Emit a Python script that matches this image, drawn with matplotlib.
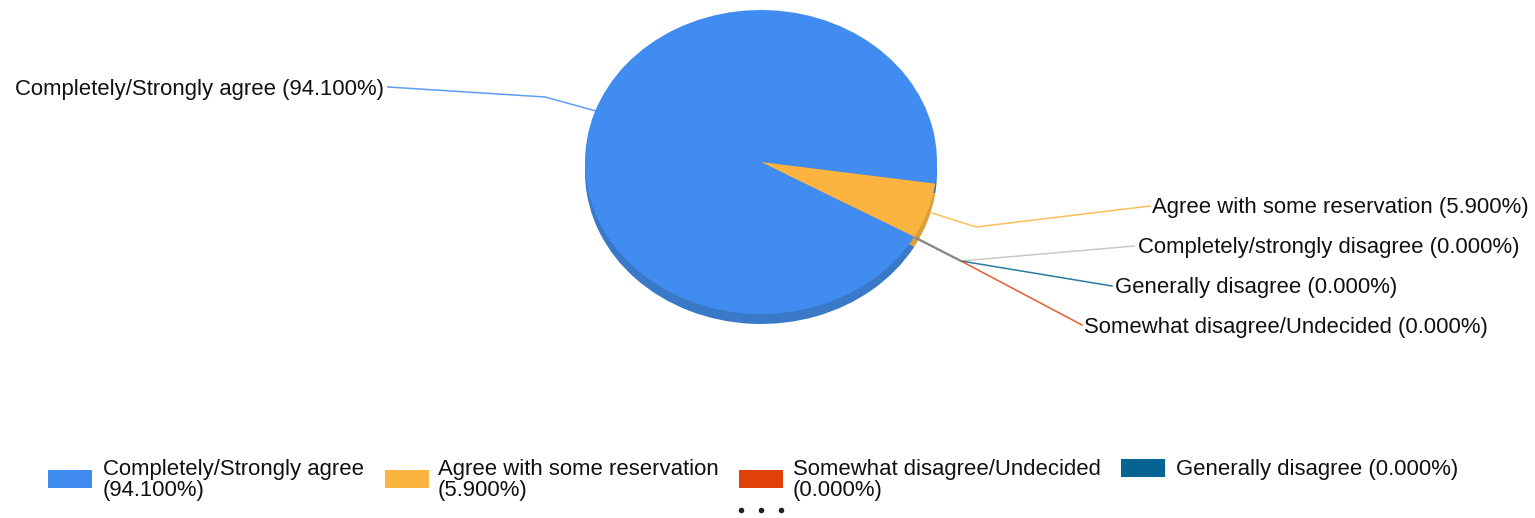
import matplotlib
matplotlib.use("Agg")
import matplotlib.pyplot as plt
from matplotlib.patches import Rectangle

W, H = 1535, 518

categories = ["Completely/Strongly agree", "Agree with some reservation",
              "Somewhat disagree/Undecided", "Generally disagree",
              "Completely/strongly disagree"]
percents = [94.1, 5.9, 0.0, 0.0, 0.0]

colors = ["#418cf0", "#fcb441", "#e0400a", "#056492", "#bfbfbf"]
rim_colors = ["#3a78c8", "#d9a03a", "#b03008", "#045070", "#999999"]

plt.rcParams["font.family"] = ["Liberation Sans", "DejaVu Sans"]
FS = 15.9

def label(i):
    return "%s (%.3f%%)" % (categories[i], percents[i])

fig = plt.figure(figsize=(W / 100, H / 100), dpi=100)

# pie, squashed into an ellipse by its own axes
cx, cy, rx, ry, depth = 761, 162, 176, 152, 10
pie_ax = fig.add_axes([(cx - rx) / W, (H - cy - ry) / H, 2 * rx / W, 2 * ry / H])
wp = {"linewidth": 0, "clip_on": False}
pie_ax.pie(percents, colors=rim_colors, startangle=-29.4, counterclock=False,
           center=(0, -depth / ry), wedgeprops=wp)
pie_ax.pie(percents, colors=colors, startangle=-29.4, counterclock=False,
           center=(0, 0), wedgeprops=wp)
pie_ax.set_aspect("auto")
pie_ax.set_xlim(-1, 1)
pie_ax.set_ylim(-1, 1)
pie_ax.axis("off")

# overlay in pixel coordinates for leaders, labels and legend
ax = fig.add_axes([0, 0, 1, 1])
ax.set_xlim(0, W)
ax.set_ylim(H, 0)
ax.axis("off")
ax.patch.set_alpha(0)

leaders = {
    0: [(388, 87), (545, 97), (596, 111)],
    1: [(932, 213), (976, 227), (1150, 206)],
    4: [(916, 238), (961, 261), (1134, 246)],
    3: [(916, 238), (961, 261), (1112, 286)],
    2: [(916, 238), (961, 261), (1082, 325)],
}
for i, pts in leaders.items():
    ax.plot([p[0] for p in pts], [p[1] for p in pts], color=colors[i], lw=1.1, alpha=0.85)
ax.plot([916, 961], [238, 261], color="#8a8a8a", lw=1.5)

label_pos = {0: (15, 89), 1: (1152, 207), 4: (1138, 247), 3: (1115, 287), 2: (1084, 327)}
for i, (x, y) in label_pos.items():
    ax.text(x, y, label(i), fontsize=FS, va="center", ha="left", color="#111111")

# legend
swatches = [(48, 470), (385, 470), (739, 470), (1121, 459)]
text_x = [103, 438, 793, 1176]
for i in range(4):
    x, y = swatches[i]
    ax.add_patch(Rectangle((x, y), 44, 18, facecolor=colors[i], edgecolor="none"))
    if i < 3:
        txt = "%s\n(%.3f%%)" % (categories[i], percents[i])
        ax.text(text_x[i], 480, txt, fontsize=FS, va="center", ha="left",
                linespacing=1.02, color="#111111")
    else:
        ax.text(text_x[i], 470, label(i), fontsize=FS, va="center", ha="left", color="#111111")

for x in [741, 761, 781]:
    ax.plot([x], [510], "o", color="#222222", ms=3)

fig.savefig("out.png", dpi=100)
